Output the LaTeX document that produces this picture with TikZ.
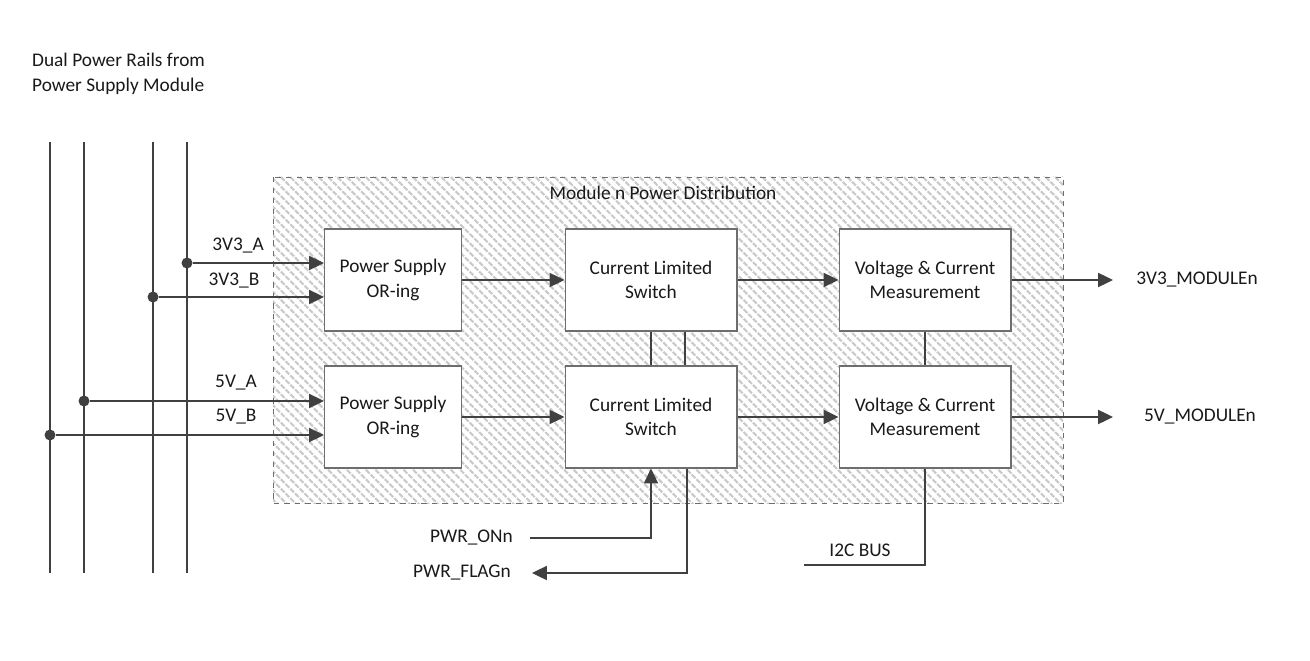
\documentclass[tikz,border=0pt]{standalone}
\usepackage{fontspec}
\setmainfont{Carlito}
\usetikzlibrary{arrows.meta,patterns.meta,positioning}

\definecolor{linie}{RGB}{64,64,64}
\definecolor{rahmen}{RGB}{110,110,110}
\definecolor{schraffur}{RGB}{202,202,202}
\definecolor{schrift}{RGB}{25,25,25}

\begin{document}
\begin{tikzpicture}[x=0.02cm, y=-0.02cm,
        >={Triangle[length=8.5pt,width=8pt]},
        every node/.style={text=schrift, font=\fontsize{11}{14}\selectfont},
        block/.style={draw=rahmen, line width=0.6pt, fill=white, align=center,
            minimum width=2.74cm, minimum height=2.04cm, inner sep=0pt},
        wide block/.style={block, minimum width=3.44cm},
        leitung/.style={draw=linie, line width=1.1pt},
        punkt/.style={circle, fill=linie, inner sep=0pt, minimum size=0.22cm}]
        \useasboundingbox (0,0) rectangle (1310,661);

        % Bereich
        \draw[rahmen, dashed, line width=0.5pt,
            pattern={Lines[angle=-45,distance=3.8pt,line width=1.2pt]},
            pattern color=schraffur] (273,177) rectangle (1063,503);
        \node (titel) at (663,193) {Module n Power Distribution};

        % Schienen
        \node[anchor=west, align=left] (quelle) at (26,74) {Dual Power Rails from\\Power Supply Module};
        \foreach \x [count=\i] in {50,84,153,187}
            \draw[leitung] (\x,142) coordinate (s\i o) -- (\x,573) coordinate (s\i u);

        % Kästchen
        \node[block] (orA) at (393,280) {Power Supply\\OR-ing};
        \node[block] (orB) at (393,417) {Power Supply\\OR-ing};
        \node[wide block] (swA) at (651,280) {Current Limited\\Switch};
        \node[wide block] (swB) at (651,417) {Current Limited\\Switch};
        \node[wide block] (vmA) at (925,280) {Voltage \& Current\\Measurement};
        \node[wide block] (vmB) at (925,417) {Voltage \& Current\\Measurement};

        % Eingänge
        \node[punkt] (p3a) at (187,263) {};
        \node[punkt] (p3b) at (153,297) {};
        \node[punkt] (p5a) at (84,401) {};
        \node[punkt] (p5b) at (50,435) {};
        \draw[leitung, ->] (p3a) -- (p3a -| orA.west);
        \draw[leitung, ->] (p3b) -- (p3b -| orA.west);
        \draw[leitung, ->] (p5a) -- (p5a -| orB.west);
        \draw[leitung, ->] (p5b) -- (p5b -| orB.west);
        \node (l3a) at (238,246) {3V3\_A};
        \node (l3b) at (234,281) {3V3\_B};
        \node (l5a) at (236,383) {5V\_A};
        \node (l5b) at (236,417) {5V\_B};

        % Pfeile
        \draw[leitung, ->] (orA) -- (swA);
        \draw[leitung, ->] (swA) -- (vmA);
        \draw[leitung, ->] (orB) -- (swB);
        \draw[leitung, ->] (swB) -- (vmB);
        \draw[leitung] (swA) -- (swB);
        \draw[leitung] ([xshift=0.68cm]swA.south) -- ([xshift=0.68cm]swB.north);
        \draw[leitung] (vmA) -- (vmB);

        % Ausgänge
        \coordinate (ausA) at (1113,280);
        \coordinate (ausB) at (1113,417);
        \draw[leitung, ->] (vmA) -- (ausA);
        \draw[leitung, ->] (vmB) -- (ausB);
        \node (txtA) at (1197,280) {3V3\_MODULEn};
        \node (txtB) at (1200,417) {5V\_MODULEn};

        % Steuerung
        \node[anchor=east] (pwron) at (519,538) {PWR\_ONn};
        \node[anchor=east] (pwrflag) at (517,573) {PWR\_FLAGn};
        \draw[leitung, ->, shorten <=0.22cm] (pwron.east) -- (swB.south |- pwron.east) -- (swB.south);
        \draw[leitung, ->, shorten >=0.3cm] ([xshift=0.72cm]swB.south) |- (pwrflag.east);
        \node (i2c) at (860,550) {I2C BUS};
        \coordinate (busende) at (804,565);
        \draw[leitung] (vmB) |- (busende);
\end{tikzpicture}
\end{document}
